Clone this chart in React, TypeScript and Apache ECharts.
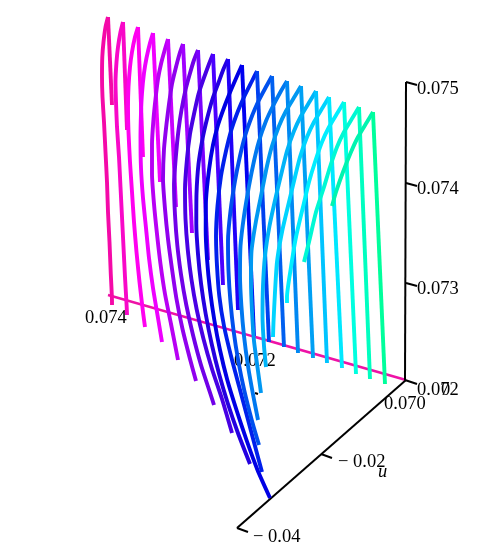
import React, { useEffect, useRef } from "react";
import * as echarts from "echarts";

// Plot-plane readings, one entry per curve (magenta side to green side)
const apexH = [108, 123, 138, 153, 168, 183, 198, 213, 228, 242, 257, 272, 287, 301, 316, 329, 344, 359, 373];
const apexV = [17, 22, 27, 33, 39, 44, 50, 54, 59, 65, 71, 76, 81, 86, 91, 97, 102, 107, 112];
const rightEndH = [112, 127, 143, 160, 176, 192, 208, 223, 238, 254, 269, 284, 298, 313, 327, 342, 356, 370, 385];
const rightEndV = [105, 130, 157, 182, 207, 233, 260, 285, 310, 336, 342, 347, 353, 358, 363, 368, 374, 379, 384];
// left strand: distance below the apex, and the across-offset read at each of those distances
const leftDown = [10, 25, 40, 60, 80, 105, 135, 165, 195, 225, 255, 285, 315, 345, 375, 405];
const leftAcross: number[][] = [
  [-2.5, -4.5, -5.7, -6, -5.5, -4, -2.5, -1, 0, 1.5, 2.7, 4],
  [-2.5, -5, -6.5, -7.5, -7, -6, -4, -2.5, -1, 0.5, 2, 3.7],
  [-3, -6, -8, -9.5, -10, -9.5, -8, -6, -4, -1.5, 1.5, 5],
  [-3, -6.5, -9, -11, -12, -12.5, -12, -10, -7, -4, 0, 5],
  [-3, -7, -10, -12.5, -14.5, -16, -16, -14, -11, -7.5, -3, 3],
  [-3.5, -7.5, -11, -14, -16.5, -19, -20, -18, -15, -11, -6.5, -0.5, 7],
  [-4, -8.5, -12.5, -16.5, -19.5, -22, -24, -23, -20.7, -16.9, -11.7, -5, 3, 12.8],
  [-4, -9.5, -14.5, -19, -23, -26, -28, -27.5, -25.3, -21.6, -16.4, -9.5, -1, 9],
  [-4.5, -10, -15.5, -21, -25.5, -29.5, -31.5, -31.7, -30, -26.9, -22.3, -16.3, -8.9, 0, 10.3],
  [-4.5, -11, -17, -24, -29, -33, -36, -36.3, -34.9, -32, -27.7, -22, -14.7, -5.5, 4.5, 15.5],
  [-5, -12.5, -19, -26, -31, -36, -39.5, -41, -40, -37.7, -33, -26, -18, -10, -2],
  [-5.5, -13.5, -20, -27, -32, -37, -41.5, -44, -43.5, -41.6, -38.4, -33.7, -27.6, -20],
  [-6, -14, -21, -28, -33, -38, -43, -46.5, -47, -45.6, -43, -39, -33.7],
  [-6, -15, -22, -29, -34, -39, -45, -49.5, -50, -49, -47, -43],
  [-6, -15, -22, -29, -34, -40, -46.5, -51, -53, -53.5, -52],
  [-6, -15, -22, -29, -34, -40, -47, -52, -54, -55.5],
  [-6, -15, -22, -29, -35, -41, -48, -53, -57],
  [-6, -15, -22, -29, -35, -43, -50],
  [-6, -15, -22, -30, -37],
];
const leftEndDown = [288, 293, 300, 309, 321, 337, 355, 379, 405, 433, 401, 369, 339, 307, 276, 240, 201, 155, 94];
const leftEndAcross = [4, 4, 7, 9, 10, 13, 16, 19, 22, 28, 5, -13, -29, -40, -50, -56, -57, -55, -41];
const leftColors = [
  "#f40aa8", "#f808c8", "#ff00f0", "#ee00ff", "#b800f4", "#9000ee", "#7000e8", "#4800e4", "#2400e0", "#0000e4",
  "#0020ec", "#0050ee", "#0078f0", "#0098f2", "#00b4f8", "#00d4ff", "#00eeff", "#00f8d4", "#00f4b0",
];
const rightColors = [
  "#f40aa8", "#f808c8", "#ff00f0", "#f000ff", "#c800ff", "#a000ff", "#7a00ff", "#4a00ff", "#2000f8", "#0000f0",
  "#0040f0", "#0060f0", "#0088f2", "#00a0f4", "#00c4ff", "#00e8ff", "#00ffe0", "#00ffc0", "#00ff9c",
];

const bottomAxisLine = [[108, 295], [406, 380]];
const uAxisLine = [[406, 380], [237, 528]];
const valueAxisLine = [[406, 82], [405, 380]];
const tickLines = [
  [[406, 82], [417, 85]],
  [[406, 183], [417, 186]],
  [[406, 283], [417, 286]],
  [[405, 380], [417, 384]],
  [[321, 454], [332, 458]],
  [[237, 528], [248, 532]],
  [[255, 393], [258, 394]],
];
const tickTexts: [string, number, number][] = [
  ["0.075", 417, 88], ["0.074", 417, 188], ["0.073", 417, 288], ["0.072", 417, 389], ["0", 441, 389],
  ["0.074", 85, 317], ["0.072", 234, 360], ["0.070", 384, 403],
  ["\u2212 0.02", 338, 461], ["\u2212 0.04", 253, 536],
];

const FONT = '"Liberation Serif", serif';

export default function App() {
  const ref = useRef<HTMLDivElement>(null);
  useEffect(() => {
    const chart = echarts.init(ref.current!, undefined, { renderer: "svg" });
    const series: any[] = [];
    const plain = (data: number[][], color: string, width: number, z: number) => ({
      type: "line", data, symbol: "none", silent: true, z, animation: false,
      lineStyle: { color, width, cap: "butt", join: "miter" },
    });
    series.push(plain(bottomAxisLine, "#ee12a6", 2.5, 3));
    series.push(plain(uAxisLine, "#000", 2, 3));
    series.push(plain(valueAxisLine, "#000", 2, 3));
    tickLines.forEach((t) => series.push(plain(t, "#000", 2, 3)));
    apexH.forEach((h, i) => {
      const v = apexV[i];
      const left = [
        [h, v],
        ...leftAcross[i].map((ac, k) => [h + ac, v + leftDown[k]]),
        [h + leftEndAcross[i], v + leftEndDown[i]],
      ];
      series.push({ ...plain(left, leftColors[i], 3.9, 4), smooth: 0.2 });
      series.push(plain([[h, v], [rightEndH[i], rightEndV[i]]], rightColors[i], 3.9, 4));
    });
    chart.setOption({
      animation: false,
      grid: { left: 0, top: 0, width: 490, height: 552 },
      xAxis: { type: "value", min: 0, max: 490, show: false },
      yAxis: { type: "value", min: 0, max: 552, inverse: true, show: false },
      series,
      graphic: [
        ...tickTexts.map(([text, x, y]) => ({
          type: "text", x, y, z: 0,
          style: { text, fill: "#000", font: `18.5px ${FONT}`, textAlign: "left", textVerticalAlign: "middle" },
        })),
        {
          type: "text", x: 378, y: 471, z: 0,
          style: { text: "u", fill: "#000", font: `italic 18.5px ${FONT}`, textAlign: "left", textVerticalAlign: "middle" },
        },
      ],
    });
    return () => chart.dispose();
  }, []);
  return <div ref={ref} style={{ position: "fixed", left: 0, top: 0, width: 490, height: 552 }} />;
}
